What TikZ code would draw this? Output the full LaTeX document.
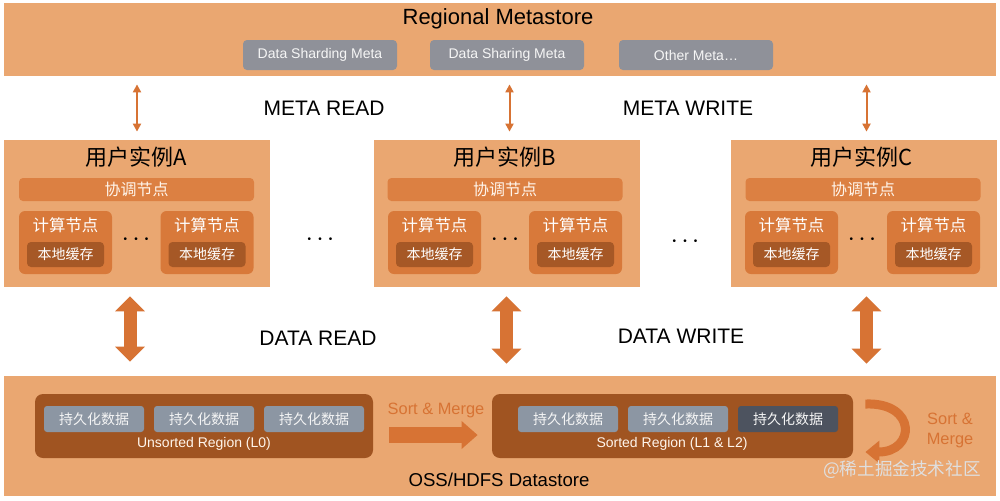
\documentclass[tikz,border=0pt]{standalone}
\usepackage{fontspec}
\setmainfont{Liberation Sans}
\newfontfamily\cjk{Noto Sans CJK SC}
\usetikzlibrary{arrows.meta,positioning,shapes}
\definecolor{bandorange}{RGB}{234,167,113}
\definecolor{coordorange}{RGB}{220,128,66}
\definecolor{computeorange}{RGB}{216,121,58}
\definecolor{cachebrown}{RGB}{166,88,38}
\definecolor{regionbrown}{RGB}{160,84,33}
\definecolor{metagray}{RGB}{143,145,153}
\definecolor{datagray}{RGB}{140,150,163}
\definecolor{darkdata}{RGB}{77,83,95}
\definecolor{arroworange}{RGB}{215,115,52}

\begin{document}
\begin{tikzpicture}[x=0.5pt, y=-0.5pt,
    band/.style={rectangle, fill=bandorange, minimum width=496pt, inner sep=0pt},
    inst/.style={rectangle, fill=bandorange, minimum width=133pt, minimum height=73.5pt, inner sep=0pt},
    bigtitle/.style={font=\fontsize{11}{13}\selectfont, inner sep=0pt},
    insttitle/.style={font=\cjk\fontsize{11}{13}\selectfont, inner sep=0pt},
    metabox/.style={rectangle, rounded corners=2pt, fill=metagray, text=white!93!gray, minimum width=77pt, minimum height=15pt, inner sep=0pt, font=\fontsize{7}{8}\selectfont},
    coordbar/.style={rectangle, rounded corners=2pt, fill=coordorange, text=white!92!orange, minimum width=117.5pt, minimum height=11.5pt, inner sep=0pt, font=\cjk\fontsize{8}{9}\selectfont},
    compute/.style={rectangle, rounded corners=3pt, fill=computeorange, minimum width=46.5pt, minimum height=31.5pt, inner sep=0pt},
    computetitle/.style={text=white, inner sep=0pt, font=\cjk\fontsize{8.2}{9}\selectfont},
    cache/.style={rectangle, rounded corners=2pt, fill=cachebrown, text=white, minimum width=38.5pt, minimum height=12.5pt, inner sep=0pt, font=\cjk\fontsize{7}{8}\selectfont},
    dots/.style={inner sep=0pt, font=\fontsize{5}{6}\selectfont},
    flowlabel/.style={inner sep=0pt, font=\fontsize{10.5}{12}\selectfont},
    region/.style={rectangle, rounded corners=4pt, fill=regionbrown, minimum height=32pt, inner sep=0pt},
    databox/.style={rectangle, rounded corners=1.5pt, fill=datagray, text=white!92!gray, minimum width=50pt, minimum height=13pt, inner sep=0pt, font=\cjk\fontsize{7}{8}\selectfont},
    regionlabel/.style={text=white!92!orange, inner sep=0pt, font=\fontsize{7}{8}\selectfont},
    mergelabel/.style={text=arroworange, inner sep=0pt, align=center, font=\fontsize{8.2}{10}\selectfont},
    metaarrow/.style={{Triangle[width=4pt,length=4pt]}-{Triangle[width=4pt,length=4pt]}, draw=arroworange, fill=arroworange, line width=1pt, shorten <=4pt, shorten >=4pt},
    dataarrow/.style={{Triangle[width=14.5pt,length=7.5pt]}-{Triangle[width=14.5pt,length=7.5pt]}, draw=arroworange, fill=arroworange, line width=6.5pt},
    blockarrow/.style={-{Triangle[width=13.5pt,length=8pt]}, draw=arroworange, fill=arroworange, line width=8pt},
    curvearrow/.style={-{Triangle[width=11pt,length=7pt]}, draw=arroworange, line width=4.5pt}
]

\fill[white] (0,0) rectangle (1000,500);
\useasboundingbox (0,0) rectangle (1000,500);

% Regional Metastore
\node[band, minimum height=36.5pt] (meta) at (500,39.5) {};
\node[bigtitle] (metat) at (498,19) {Regional Metastore};
\node[metabox] (shardmeta) at (320,55) {Data Sharding Meta};
\node[metabox] (sharemeta) at (507,55) {Data Sharing Meta};
\node[metabox] (othermeta) at (696,55) {Other Meta\ldots};

% Instance A
\node[inst] (instA) at (137,213.5) {};
\node[insttitle] (instAt) at (136,157) {用户实例A};
\node[coordbar] (coordA) at (136.5,189.5) {协调节点};
\node[compute] (compA1) at (65.5,242.5) {};
\node[computetitle] (compA1t) at (65.5,225) {计算节点};
\node[cache] (cacheA1) at (65.5,254.5) {本地缓存};
\node[compute] (compA2) at (207,242.5) {};
\node[computetitle] (compA2t) at (207,225) {计算节点};
\node[cache] (cacheA2) at (207,254.5) {本地缓存};
\node[dots] (dotsA) at (136,240) {\textbullet\hspace{3.6pt}\textbullet\hspace{3.6pt}\textbullet};

% Instance B
\node[inst] (instB) at (506.5,213.5) {};
\node[insttitle] (instBt) at (505,157) {用户实例B};
\node[coordbar] (coordB) at (505,189.5) {协调节点};
\node[compute] (compB1) at (434.5,242.5) {};
\node[computetitle] (compB1t) at (434.5,225) {计算节点};
\node[cache] (cacheB1) at (434.5,254.5) {本地缓存};
\node[compute] (compB2) at (575.5,242.5) {};
\node[computetitle] (compB2t) at (575.5,225) {计算节点};
\node[cache] (cacheB2) at (575.5,254.5) {本地缓存};
\node[dots] (dotsB) at (505,240) {\textbullet\hspace{3.6pt}\textbullet\hspace{3.6pt}\textbullet};

% Instance C
\node[inst] (instC) at (863.5,213.5) {};
\node[insttitle] (instCt) at (862,157) {用户实例C};
\node[coordbar] (coordC) at (863,189.5) {协调节点};
\node[compute] (compC1) at (791.5,242.5) {};
\node[computetitle] (compC1t) at (791.5,225) {计算节点};
\node[cache] (cacheC1) at (791.5,254.5) {本地缓存};
\node[compute] (compC2) at (933.5,242.5) {};
\node[computetitle] (compC2t) at (933.5,225) {计算节点};
\node[cache] (cacheC2) at (933.5,254.5) {本地缓存};
\node[dots] (dotsC) at (862,240) {\textbullet\hspace{3.6pt}\textbullet\hspace{3.6pt}\textbullet};

% dots between instances
\node[dots] (dotsAB) at (320,240) {\textbullet\hspace{3.6pt}\textbullet\hspace{3.6pt}\textbullet};
\node[dots] (dotsBC) at (685,242) {\textbullet\hspace{3.6pt}\textbullet\hspace{3.6pt}\textbullet};

% Meta read / write
\draw[metaarrow] (meta.south -| instA.north) -- (instA.north);
\draw[metaarrow] ([xshift=1.5pt]meta.south -| instB.north) -- ([xshift=1.5pt]instB.north);
\draw[metaarrow] ([xshift=1.5pt]meta.south -| instC.north) -- ([xshift=1.5pt]instC.north);
\node[flowlabel] (metaread) at (324,108) {META READ};
\node[flowlabel] (metawrite) at (688,108) {META WRITE};

% OSS/HDFS Datastore
\node[band, minimum height=60pt] (store) at (500,436) {};
\node[bigtitle, font=\fontsize{9.3}{11}\selectfont] (storet) at (499,480) {OSS/HDFS Datastore};

% Data read / write
\draw[dataarrow, shorten <=4.5pt, shorten >=7pt] ([xshift=-3.5pt]instA.south) -- ([xshift=-3.5pt]instA.south |- store.north);
\draw[dataarrow, shorten <=4.5pt, shorten >=6pt] (instB.south) -- (instB.south |- store.north);
\draw[dataarrow, shorten <=4.5pt, shorten >=6pt] ([xshift=1.5pt]instC.south) -- ([xshift=1.5pt]instC.south |- store.north);
\node[flowlabel] (dataread) at (318,338) {DATA READ};
\node[flowlabel] (datawrite) at (681,336) {DATA WRITE};

% Unsorted region
\node[region, minimum width=169pt] (unsorted) at (204,426) {};
\node[databox] (u1) at (94,419) {持久化数据};
\node[databox] (u2) at (204,419) {持久化数据};
\node[databox] (u3) at (314,419) {持久化数据};
\node[regionlabel] (unsortedt) at (204,444) {Unsorted Region (L0)};

% Sorted region
\node[region, minimum width=180.5pt] (sorted) at (672.5,426) {};
\node[databox] (s1) at (568,419) {持久化数据};
\node[databox] (s2) at (678,419) {持久化数据};
\node[databox, fill=darkdata] (s3) at (788,419) {持久化数据};
\node[regionlabel] (sortedt) at (672,444) {Sorted Region (L1 \& L2)};

% Sort & Merge
\node[mergelabel] (merge1) at (436,410) {Sort \& Merge};
\draw[blockarrow, shorten <=8pt, shorten >=7pt] ([yshift=-4.5pt]unsorted.east) -- ([yshift=-4.5pt]sorted.west);
\draw[curvearrow] ([xshift=6pt,yshift=11pt]sorted.east) .. controls +(52,-2) and +(50,0) .. ([xshift=6pt,yshift=-13pt]sorted.east);
\node[mergelabel] (merge2) at (950,430) {Sort \&\\Merge};

% watermark
\node[inner sep=0pt, text=gray!25, font=\cjk\fontsize{8.8}{10}\selectfont] (mark) at (902,470) {@稀土掘金技术社区};

\end{tikzpicture}
\end{document}
